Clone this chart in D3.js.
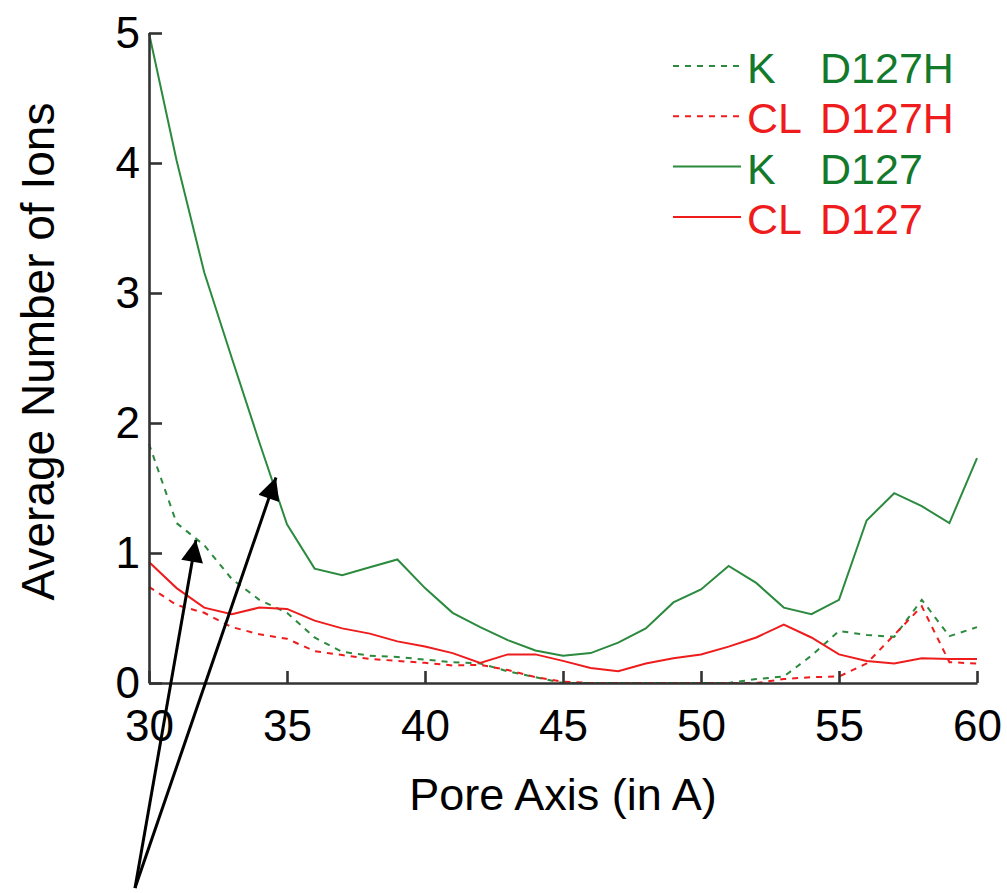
<!DOCTYPE html>
<html>
<head>
<meta charset="utf-8">
<script src="https://cdn.jsdelivr.net/npm/d3@7"></script>
<style>
  html, body { margin: 0; padding: 0; background: #fff; }
  svg { display: block; }
  text { font-family: "Liberation Sans", Arial, sans-serif; }
</style>
</head>
<body>
<svg id="chart" width="1007" height="893"></svg>
<script>
// Position along the pore axis (Å)
const poreAxis = d3.range(30, 61);

// Average ion counts per position
const kD127H  = [1.84, 1.23, 1.06, 0.80, 0.64, 0.54, 0.35, 0.24, 0.21, 0.20, 0.18, 0.16, 0.15, 0.09, 0.045, 0.0,
                 0, 0, 0, 0, 0, 0, 0.03, 0.05, 0.21, 0.40, 0.37, 0.355, 0.64, 0.36, 0.43];
const clD127H = [0.74, 0.60, 0.54, 0.43, 0.375, 0.34, 0.245, 0.215, 0.185, 0.17, 0.155, 0.135, 0.14, 0.10, 0.045, 0.01,
                 0, 0, 0, 0, 0, 0, 0, 0.03, 0.045, 0.05, 0.15, 0.37, 0.59, 0.16, 0.15];
const kD127   = [5.0, 4.02, 3.16, 2.50, 1.85, 1.22, 0.88, 0.83, 0.89, 0.95, 0.73, 0.54, 0.43, 0.33, 0.25, 0.21,
                 0.23, 0.31, 0.42, 0.62, 0.72, 0.90, 0.77, 0.58, 0.53, 0.64, 1.25, 1.46, 1.36, 1.23, 1.73];
const clD127  = [0.93, 0.73, 0.58, 0.53, 0.58, 0.57, 0.48, 0.42, 0.38, 0.32, 0.28, 0.23, 0.155, 0.22, 0.22, 0.17,
                 0.115, 0.09, 0.15, 0.19, 0.22, 0.28, 0.35, 0.45, 0.35, 0.22, 0.17, 0.15, 0.19, 0.185, 0.185];

const xTicks = [30, 35, 40, 45, 50, 55, 60];
const yTicks = [0, 1, 2, 3, 4, 5];

const legendIons  = ["K", "CL", "K", "CL"];
const legendForms = ["D127H", "D127H", "D127", "D127"];

const GREEN = "#2b8a3e", GREEN_TEXT = "#137a2b", RED = "#ee1c1c";

const series = [
  { values: kD127H,  color: GREEN, text: GREEN_TEXT, dashed: true  },
  { values: clD127H, color: RED,   text: RED,        dashed: true  },
  { values: kD127,   color: GREEN, text: GREEN_TEXT, dashed: false },
  { values: clD127,  color: RED,   text: RED,        dashed: false }
];

const svg = d3.select("#chart");

const x = d3.scaleLinear().domain([30, 60]).range([149, 977]);
const y = d3.scaleLinear().domain([0, 5]).range([683, 33]);

// Data curves
const line = d3.line()
  .x((d, i) => x(poreAxis[i]))
  .y(d => y(d));

series.forEach(s => {
  svg.append("path")
    .datum(s.values)
    .attr("fill", "none")
    .attr("stroke", s.color)
    .attr("stroke-width", 2)
    .attr("stroke-dasharray", s.dashed ? "6,6" : null)
    .attr("d", line);
});

// Axes with inward ticks
const axisColor = "#333";
const gx = svg.append("g")
  .attr("transform", `translate(0,${y(0)})`)
  .call(d3.axisBottom(x).tickValues(xTicks).tickFormat(d3.format("d"))
        .tickSizeInner(-12).tickSizeOuter(0).tickPadding(27));
const gy = svg.append("g")
  .attr("transform", `translate(${x(30)},0)`)
  .call(d3.axisLeft(y).tickValues(yTicks).tickFormat(d3.format("d"))
        .tickSizeInner(-13).tickSizeOuter(0).tickPadding(9));

[gx, gy].forEach(g => {
  g.select(".domain").attr("stroke", axisColor).attr("stroke-width", 2.6);
  g.selectAll(".tick line").attr("stroke", axisColor).attr("stroke-width", 2.6);
  g.selectAll(".tick text")
    .attr("fill", "#000")
    .style("font-size", "44px")
    .style("font-family", "'Liberation Sans', Arial, sans-serif");
});

// Axis titles
svg.append("text")
  .attr("x", x(45))
  .attr("y", 810)
  .attr("text-anchor", "middle")
  .style("font-size", "45px")
  .attr("fill", "#000")
  .text("Pore Axis (in A)");

svg.append("text")
  .attr("transform", `translate(54,${y(2.55)}) rotate(-90)`)
  .attr("text-anchor", "middle")
  .style("font-size", "46px")
  .attr("fill", "#000")
  .text("Average Number of Ions");

// Legend
const legend = svg.append("g");
series.forEach((s, i) => {
  const cy = 66 + i * 50.3;
  legend.append("line")
    .attr("x1", 673).attr("x2", 741)
    .attr("y1", cy).attr("y2", cy)
    .attr("stroke", s.color)
    .attr("stroke-width", 2)
    .attr("stroke-dasharray", s.dashed ? "6,6" : null);
  const t = legend.append("text")
    .attr("y", cy + 17)
    .attr("fill", s.text)
    .style("font-size", "43px");
  t.append("tspan").attr("x", 747).text(legendIons[i]);
  t.append("tspan").attr("x", 820).text(legendForms[i]);
});

// Annotation arrows pointing at the two K curves
const defs = svg.append("defs");
defs.append("marker")
  .attr("id", "arrowhead")
  .attr("viewBox", "0 0 10 10")
  .attr("refX", 10).attr("refY", 5)
  .attr("markerUnits", "userSpaceOnUse")
  .attr("markerWidth", 24).attr("markerHeight", 22)
  .attr("orient", "auto")
  .append("path")
  .attr("d", "M0,0 L10,5 L0,10 Z")
  .attr("fill", "#000");

const arrowTargets = [[31.7, 1.1], [34.6, 1.58]];
arrowTargets.forEach(([tx, ty]) => {
  svg.append("line")
    .attr("x1", 135).attr("y1", 888)
    .attr("x2", x(tx)).attr("y2", y(ty))
    .attr("stroke", "#000")
    .attr("stroke-width", 3)
    .attr("marker-end", "url(#arrowhead)");
});
</script>
</body>
</html>
